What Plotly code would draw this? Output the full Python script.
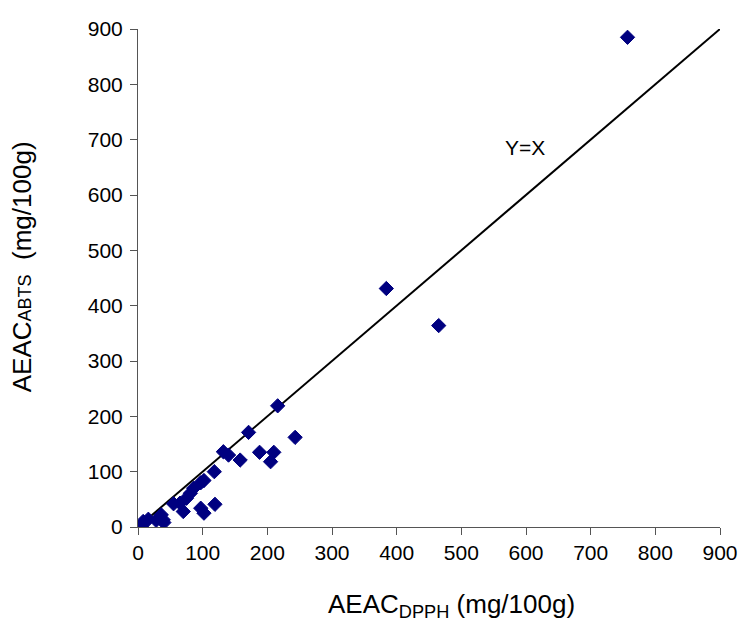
import plotly.graph_objects as go

# AEAC measured by the DPPH assay (x) and by the ABTS assay (y), mg/100g
aeac_dpph = [5, 8, 16, 28, 36, 39, 40, 55, 65, 70, 75, 81, 86, 97, 97, 102, 102,
             118, 119, 132, 140, 158, 171, 188, 205, 210, 216, 243, 384, 465, 757]
aeac_abts = [1, 10, 14, 12, 22, 13, 8, 42, 43, 28, 52, 61, 70, 34, 80, 25, 84,
             100, 41, 136, 130, 121, 171, 135, 118, 135, 219, 162, 431, 364, 885]

# Identity reference line
line_x = [0, 900]
line_y = [0, 900]

tick_vals = [0, 100, 200, 300, 400, 500, 600, 700, 800, 900]

FONT = "Arial, Liberation Sans, sans-serif"

fig = go.Figure()

fig.add_trace(go.Scatter(
    x=line_x, y=line_y, mode="lines",
    line=dict(color="black", width=2),
    hoverinfo="skip", showlegend=False,
))

fig.add_trace(go.Scatter(
    x=aeac_dpph, y=aeac_abts, mode="markers",
    marker=dict(symbol="diamond", size=11, color="#000080",
                line=dict(color="#000080", width=1)),
    showlegend=False,
))

axis_common = dict(
    range=[0, 900],
    tickvals=tick_vals,
    showgrid=False,
    zeroline=False,
    showline=True,
    linecolor="#555555",
    linewidth=1,
    ticks="outside",
    ticklen=7,
    tickcolor="#555555",
    tickfont=dict(family=FONT, size=21, color="black"),
    automargin=False,
)

fig.update_xaxes(**axis_common)
fig.update_yaxes(**axis_common, ticklabelstandoff=3)

fig.add_annotation(
    x=599, y=686, xref="x", yref="y", showarrow=False,
    text="Y=X",
    font=dict(family=FONT, size=21, color="black"),
)

fig.add_annotation(
    x=0.538, y=-0.158, xref="paper", yref="paper", showarrow=False,
    xanchor="center", yanchor="middle",
    text="AEAC<sub>DPPH</sub> (mg/100g)",
    font=dict(family=FONT, size=26, color="black"),
)

fig.add_annotation(
    x=-0.199, y=0.522, xref="paper", yref="paper", showarrow=False,
    xanchor="center", yanchor="middle", textangle=-90,
    text="AEAC<span style='font-size:18px'>ABTS</span>&nbsp; (mg/100g)",
    font=dict(family=FONT, size=26, color="black"),
)

fig.update_layout(
    width=744, height=619,
    margin=dict(l=138, r=24, t=29, b=92),
    plot_bgcolor="white",
    paper_bgcolor="white",
)

fig.write_html("out.html")
